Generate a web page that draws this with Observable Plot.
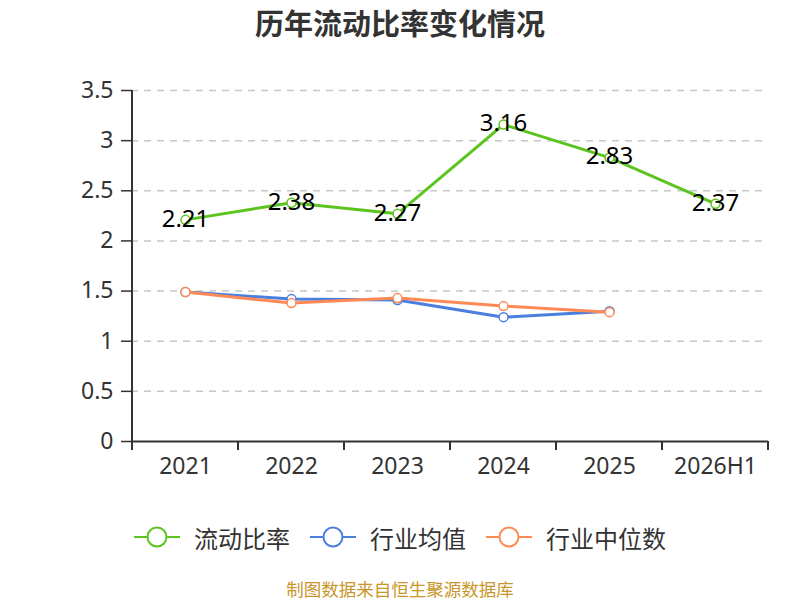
<!DOCTYPE html>
<html>
<head>
<meta charset="utf-8">
<script src="https://cdn.jsdelivr.net/npm/d3@7"></script>
<script src="https://cdn.jsdelivr.net/npm/@observablehq/plot@0.6"></script>
<style>
  body { margin: 0; background: #fff; font-family: "Noto Sans", "Noto Sans CJK SC", sans-serif; width: 800px; height: 600px; overflow: hidden; position: relative; }
  #title { position: absolute; left: 0; top: 0; width: 800px; height: 44px; line-height: 44px; text-align: center; font-size: 29px; font-weight: bold; color: #333; font-family: "Noto Sans CJK SC", sans-serif; }
  #chart { position: absolute; left: 0; top: 44px; height: 437px; }
  #legend { position: absolute; left: 0; top: 517px; width: 800px; display: flex; justify-content: center; align-items: center; height: 40px; font-family: "Noto Sans CJK SC", sans-serif; font-size: 24px; color: #333; }
  .item { display: flex; align-items: center; margin: 0 10px; }
  .item svg { margin-right: 14px; }
  #caption { position: absolute; left: 0; top: 579px; width: 800px; height: 20px; line-height: 20px; text-align: center; font-size: 17.5px; color: #c8962a; font-family: "Noto Sans CJK SC", sans-serif; }
</style>
</head>
<body>
<div id="title">历年流动比率变化情况</div>
<div id="chart"></div>
<div id="legend"></div>
<div id="caption">制图数据来自恒生聚源数据库</div>
<script>
const years = ["2021", "2022", "2023", "2024", "2025", "2026H1"];
const currentRatio = [2.21, 2.38, 2.27, 3.16, 2.83, 2.37];
const industryMean = [1.49, 1.42, 1.41, 1.24, 1.30, null];
const industryMedian = [1.49, 1.38, 1.43, 1.35, 1.29, null];
const yTicks = [0, 0.5, 1, 1.5, 2, 2.5, 3, 3.5];
const seriesNames = ["流动比率", "行业均值", "行业中位数"];
const colors = ["#5cc41f", "#4a7fe0", "#ff8a56"];

const toRows = (vals, name) => years.map((y, i) => ({year: y, value: vals[i], series: name})).filter(d => d.value != null);
const rows = [
  toRows(currentRatio, seriesNames[0]),
  toRows(industryMean, seriesNames[1]),
  toRows(industryMedian, seriesNames[2])
];

const lineMarks = [];
rows.forEach((r, i) => {
  lineMarks.push(Plot.line(r, {x: "year", y: "value", stroke: colors[i], strokeWidth: 3}));
  lineMarks.push(Plot.dot(r, {x: "year", y: "value", r: 4.5, fill: "white", stroke: colors[i], strokeWidth: 1.5}));
});

const chart = Plot.plot({
  width: 800,
  height: 437,
  marginLeft: 131,
  marginRight: 32,
  marginTop: 46,
  marginBottom: 40,
  style: {fontFamily: "'Noto Sans', 'Noto Sans CJK SC', sans-serif", fontSize: "22px", color: "#333", background: "white"},
  x: {type: "band", domain: years, padding: 0, label: null},
  y: {domain: [0, 3.5], label: null},
  marks: [
    Plot.ruleY(yTicks.filter(t => t > 0), {stroke: "#c8c8c8", strokeWidth: 1.5, strokeDasharray: "7,6", insetRight: 6}),
    Plot.axisY(yTicks, {tickSize: 10, tickPadding: 8, fontSize: 23, fill: "#333", stroke: "#333", strokeWidth: 1.5, tickFormat: d => String(d), label: null}),
    Plot.axisX({tickSize: 0, tickPadding: 16, fontSize: 23, fill: "#333", label: null}),
    Plot.ruleY([0], {stroke: "#333", strokeWidth: 2}),
    ...lineMarks,
    Plot.text(rows[0], {x: "year", y: "value", text: d => d.value.toFixed(2), fontSize: 24, fill: "black", dy: -1})
  ]
});

document.getElementById("chart").appendChild(chart);

// left axis line and band-edge ticks on the x axis, computed from the scales
const xs = chart.scale("x");
const ys = chart.scale("y");
const svg = d3.select(chart);
const y0 = ys.apply(0);
const y35 = ys.apply(3.5);
const x0 = xs.apply(years[0]);
svg.append("line").attr("x1", x0).attr("x2", x0).attr("y1", y35).attr("y2", y0).attr("stroke", "#333").attr("stroke-width", 2);
const edges = years.map(y => xs.apply(y)).concat([xs.apply(years[years.length - 1]) + xs.bandwidth]);
edges.forEach(e => {
  svg.append("line").attr("x1", e).attr("x2", e).attr("y1", y0).attr("y2", y0 + 9).attr("stroke", "#333").attr("stroke-width", 2);
});

// legend
const legend = document.getElementById("legend");
seriesNames.forEach((n, i) => {
  const item = document.createElement("div");
  item.className = "item";
  item.innerHTML = `<svg width="46" height="24"><line x1="0" x2="46" y1="12" y2="12" stroke="${colors[i]}" stroke-width="2"/><circle cx="23" cy="12" r="9.5" fill="white" stroke="${colors[i]}" stroke-width="2"/></svg><span>${n}</span>`;
  legend.appendChild(item);
});
</script>
</body>
</html>
